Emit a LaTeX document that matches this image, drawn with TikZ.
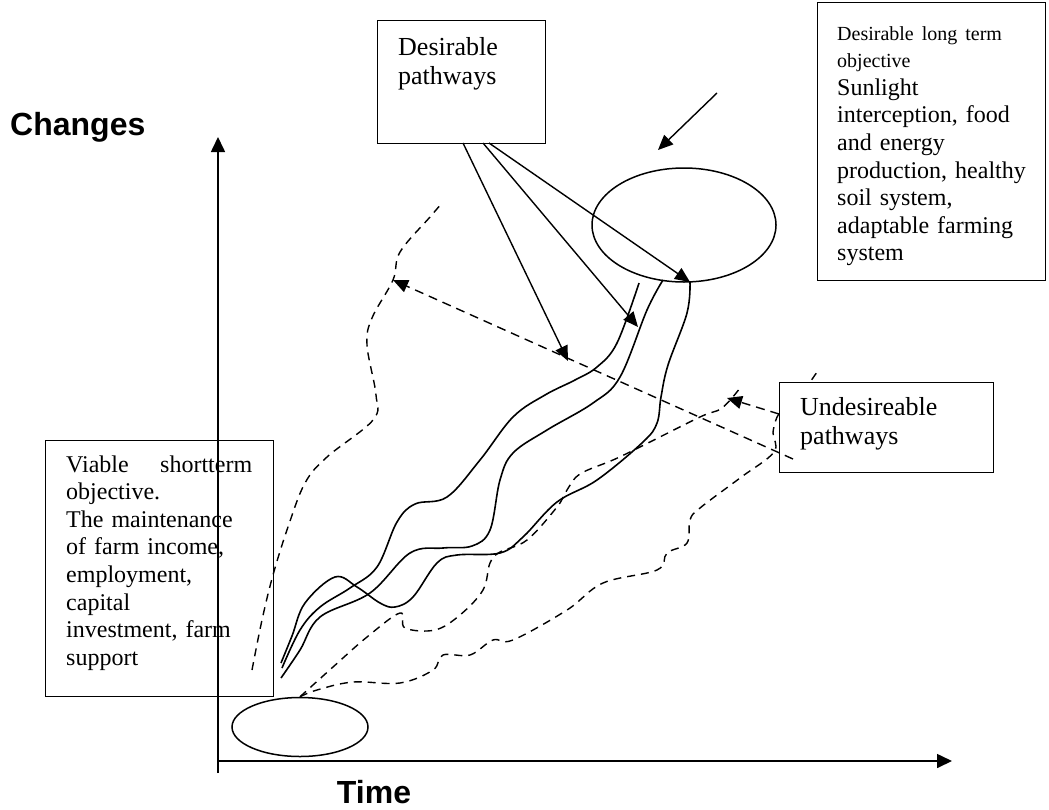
\documentclass[tikz,border=0pt]{standalone}
\usepackage{fontspec}
\setmainfont{Liberation Serif}
\newfontfamily\headfont{Liberation Sans}
\usetikzlibrary{arrows.meta,positioning,shapes.geometric}
\tikzset{
  frame/.style={rectangle,draw,line width=1.4pt,inner sep=0pt,anchor=north west},
  boxtext/.style={anchor=base west,inner sep=0pt,align=left,font=\fontsize{24}{27.6}\selectfont},
  bigtext/.style={boxtext,font=\fontsize{26}{29}\selectfont},
  axislabel/.style={inner sep=0pt,font=\headfont\bfseries\fontsize{32}{36}\selectfont},
  target/.style={ellipse,draw,line width=1.5pt,inner sep=0pt},
  axis/.style={line width=1.6pt,-{Triangle[length=15pt,width=14pt]}},
  arrow/.style={line width=1.4pt,-{Triangle[length=15pt,width=13pt]}},
  dasharrow/.style={arrow,dash pattern=on 9pt off 6pt},
  pathway/.style={line width=1.6pt},
  sidepath/.style={line width=1.4pt,dash pattern=on 8pt off 6pt}
}

\begin{document}
\begin{tikzpicture}[x=1pt,y=-1pt]
\useasboundingbox (0,0) rectangle (1049,809);

\coordinate (origin) at (218,761);
\coordinate (ytop) at (218,137);
\coordinate (ylow) at (218,773);
\coordinate (xend) at (952,761);
\draw[line width=1.6pt] (ylow)--(origin);
\draw[axis] (origin)--(ytop);
\draw[axis] (origin)--(xend);
\node[axislabel,anchor=base west] (changes) at (10,135) {Changes};
\node[axislabel,anchor=base] (time) at (374,803) {Time};

\node[target,minimum width=136pt,minimum height=59pt] (start) at (300,727) {};
\node[target,minimum width=184pt,minimum height=114pt] (goal) at (684,225) {};

\draw[sidepath] plot[smooth,tension=0.6] coordinates {(252,670) (262,620) (273,575) (288,527) (305,483) (327,457) (373,420) (376,395) (367,345) (372,318) (393,280) (400,252) (430,217) (442,203)};
\draw[sidepath] plot[smooth,tension=0.6] coordinates {(start.north) (333,667) (367,637) (400,613) (405,628) (435,630) (460,615) (483,590) (490,563) (500,552) (527,540) (557,507) (567,490) (580,474) (613,460) (640,447) (700,417) (722,408) (740,388)};
\draw[sidepath] plot[smooth,tension=0.6] coordinates {(start.north) (317,690) (353,682) (400,683) (433,670) (443,655) (470,655) (493,640) (513,640) (567,610) (603,583) (657,570) (667,553) (687,543) (690,520) (700,508) (740,478) (774,452) (773,432) (780,412) (800,395) (817,372)};

\draw[pathway] plot[smooth,tension=0.6] coordinates {(282,668) (300,630) (320,607) (350,588) (377,567) (397,522) (415,504) (447,497) (480,460) (513,417) (545,395) (575,380) (597,367) (617,343) (639,283)};
\draw[pathway] plot[smooth,tension=0.6] coordinates {(281,678) (300,650) (320,617) (370,593) (410,553) (443,548) (472,546) (490,530) (500,480) (513,453) (547,430) (593,403) (620,377) (647,310) (663,280)};
\draw[pathway] plot[smooth,tension=0.6] coordinates {(281,663) (292,636) (305,603) (335,577) (357,587) (380,603) (395,607) (413,597) (437,563) (457,555) (500,553) (523,537) (557,502) (597,480) (643,442) (657,423) (661,397) (668,365) (687,313) (690,282)};

\node[frame,minimum width=168pt,minimum height=123pt] (dpbox) at (377,20) {};
\node[bigtext,text width=140pt] (dptext) at (398,55) {Desirable\\pathways};
\node[frame,fill=white,minimum width=228pt,minimum height=278pt] (ltbox) at (817,2) {};
\node[boxtext,text width=205pt] (lttext) at (837,40) {{\fontsize{20}{27.6}\selectfont Desirable long term\\objective}\\Sunlight\\interception, food\\and energy\\production, healthy\\soil system,\\adaptable farming\\system};
\node[frame,minimum width=228pt,minimum height=256pt] (stbox) at (45,440) {};
\node[boxtext,text width=186pt] (sttext) at (66,472) {Viable\hfill shortterm\\objective.\\The maintenance\\of farm income,\\employment,\\capital\\investment, farm\\support};
\node[frame,fill=white,minimum width=214pt,minimum height=90pt] (udbox) at (779,382) {};
\node[bigtext,text width=180pt] (udtext) at (800,415) {Undesireable\\pathways};

\coordinate (dpA) at (463,143);
\coordinate (dpB) at (483,143);
\coordinate (dpC) at (489,143);
\coordinate (tipA) at (568,361);
\coordinate (tipB) at (638,327);
\coordinate (tipC) at (690,282);
\draw[arrow] (dpA)--(tipA);
\draw[arrow] (dpB)--(tipB);
\draw[arrow] (dpC)--(tipC);

\coordinate (ltfrom) at (717,93);
\coordinate (ltto) at (658,150);
\draw[arrow] (ltfrom)--(ltto);

\coordinate (udA) at (793,459);
\coordinate (udtip) at (393,280);
\coordinate (udB) at (779,414);
\coordinate (udtip2) at (727,398);
\draw[dasharrow] (udA)--(udtip);
\draw[dasharrow] (udB)--(udtip2);
\end{tikzpicture}
\end{document}
